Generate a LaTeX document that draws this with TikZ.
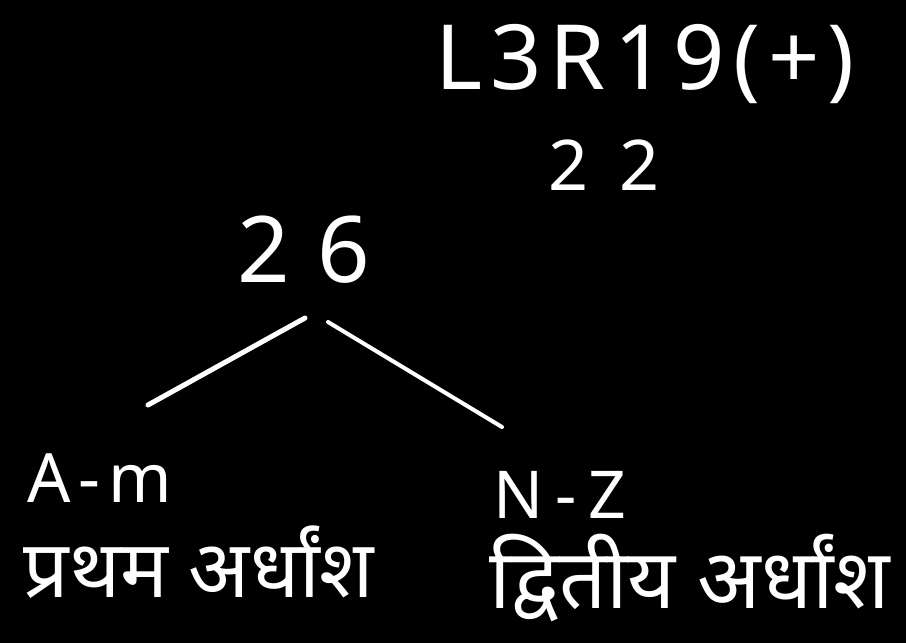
\documentclass[tikz,border=0pt]{standalone}
\usepackage{fontspec}
\setmainfont{Noto Sans}
\newfontfamily\devfont[Script=Devanagari]{Noto Sans}
\usepackage{tikz}
\usetikzlibrary{positioning,calc}

\begin{document}
\begin{tikzpicture}[x=1pt,y=-1pt]
    % Board
    \fill [black] (0,0) rectangle (906,643);
    \useasboundingbox (0,0) rectangle (906,643);

    % Rule and count
    \node [white, font=\fontsize{90}{92}\selectfont\addfontfeature{LetterSpace=9}] (rule) at (645,64) {L3R19(+)};
    \node [white, font=\fontsize{70}{72}\selectfont\addfontfeature{LetterSpace=45}] (count) at (604,165) {22};

    % Total letters
    \node [white, font=\fontsize{92}{96}\selectfont\addfontfeature{LetterSpace=30}] (total) at (304,250) {26};

    % Split into halves
    \coordinate (ltop) at (305,318);
    \coordinate (lbot) at (148,405);
    \coordinate (rtop) at (328,322);
    \coordinate (rbot) at (502,427);
    \draw [white, line width=5pt, line cap=round] (ltop) -- (lbot);
    \draw [white, line width=4pt, line cap=round] (rtop) -- (rbot);

    % Left half
    \node [white, font=\fontsize{68}{70}\selectfont\addfontfeature{LetterSpace=12}] (first) at (100,478) {A-m};
    \node [white, font=\devfont\fontsize{80}{84}\selectfont] (firsthi) at (199,562) {प्रथम अर्धांश};

    % Right half
    \node [white, font=\fontsize{66}{70}\selectfont\addfontfeature{LetterSpace=18}] (second) at (560,495) {N-Z};
    \node [white, font=\devfont\fontsize{83}{86}\selectfont] (secondhi) at (690,578) {द्वितीय अर्धांश};
\end{tikzpicture}
\end{document}
